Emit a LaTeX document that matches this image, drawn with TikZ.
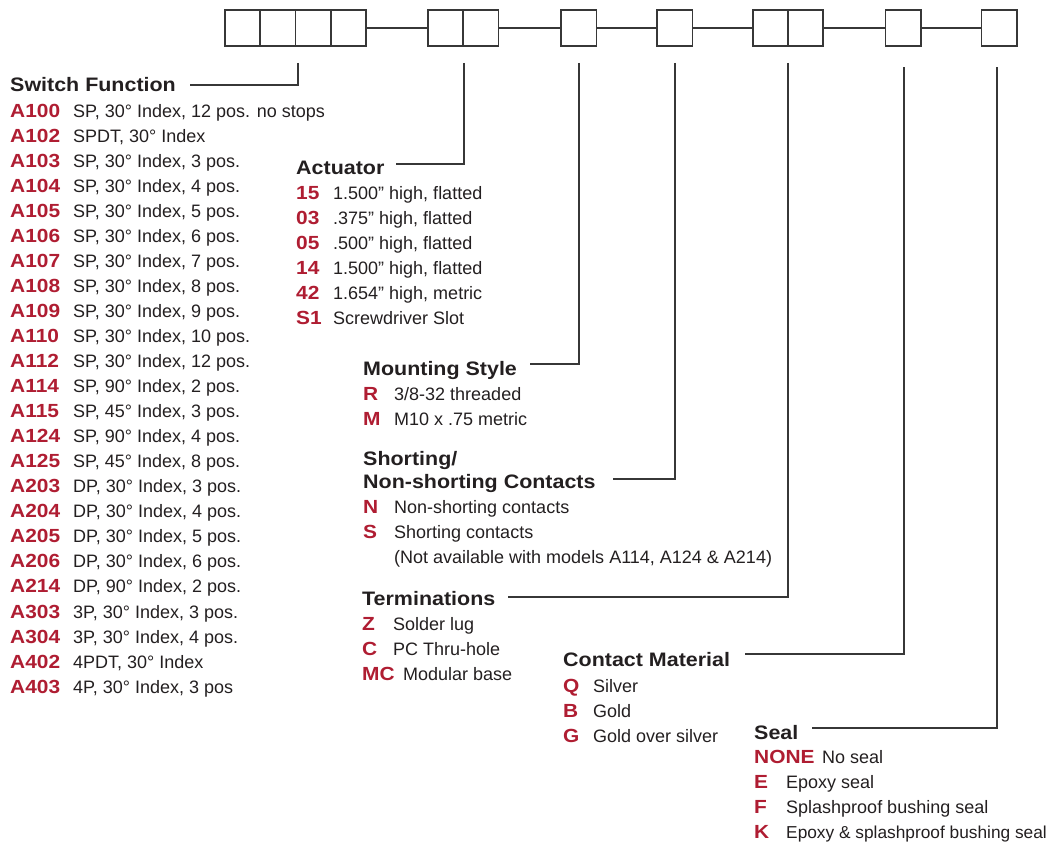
\documentclass[tikz,border=0pt]{standalone}
\usepackage{fontspec}
\setmainfont{Liberation Sans}
\newfontfamily\widefont[FakeStretch=1.1]{Liberation Sans}
\definecolor{codered}{RGB}{175,29,50}
\definecolor{ink}{RGB}{35,31,32}
\definecolor{linegray}{RGB}{55,55,55}
\newcommand\dsfont{\fontsize{18}{20}\selectfont}
\newcommand\cdfont{\widefont\bfseries\fontsize{19}{20}\selectfont}
\newcommand\hdfont{\widefont\bfseries\fontsize{19.5}{22}\selectfont}
\newcommand\optrow[6]{%
  \node[cd] (#1c) at (#2,#4) {#5};
  \node[ds] (#1d) at (#3,#4) {#6};}
\begin{document}
\begin{tikzpicture}[x=1pt,y=-1pt,
  box/.style={draw=linegray,line width=1.5pt,minimum width=35.5pt,minimum height=36pt,inner sep=0pt,outer sep=0pt},
  link/.style={draw=linegray,line width=1.5pt},
  lead/.style={draw=linegray,line width=1.5pt},
  hd/.style={anchor=base west,inner sep=0pt,text=ink,font=\hdfont},
  cd/.style={anchor=base west,inner sep=0pt,text=codered,font=\cdfont},
  ds/.style={anchor=base west,inner sep=0pt,text=ink,font=\dsfont}]
\useasboundingbox (0,0) rectangle (1054,843);
% top code boxes
\node[box] (b1) at (242.6,28) {};
\node[box] (b2) at (277.9,28) {};
\node[box] (b3) at (313.1,28) {};
\node[box] (b4) at (348.4,28) {};
\node[box] (b5) at (445.5,28) {};
\node[box] (b6) at (480.5,28) {};
\node[box] (b7) at (578.5,28) {};
\node[box] (b8) at (674.5,28) {};
\node[box] (b9) at (770.5,28) {};
\node[box] (b10) at (805,28) {};
\node[box] (b11) at (903,28) {};
\node[box] (b12) at (999,28) {};
\draw[link] (b4.east) -- (b5.west);
\draw[link] (b6.east) -- (b7.west);
\draw[link] (b7.east) -- (b8.west);
\draw[link] (b8.east) -- (b9.west);
\draw[link] (b10.east) -- (b11.west);
\draw[link] (b11.east) -- (b12.west);
% leader coordinates
\coordinate (t1) at (298,63);  \coordinate (e1) at (190,85);
\coordinate (t2) at (464,63);  \coordinate (e2) at (396,164);
\coordinate (t3) at (579,63);  \coordinate (e3) at (530,364);
\coordinate (t4) at (675,63);  \coordinate (e4) at (613,479);
\coordinate (t5) at (788,63);  \coordinate (e5) at (508,597);
\coordinate (t6) at (904,67);  \coordinate (e6) at (745,654);
\coordinate (t7) at (997,67);  \coordinate (e7) at (812,728);
\foreach \k in {1,...,7} {\draw[lead] (t\k) |- (e\k);}
% Switch Function
\node[hd] (hsf) at (10,92) {Switch Function};
\newcommand\swrow[4]{\optrow{#1}{10}{73}{117+25.05*#2}{#3}{#4}}
\swrow{s0}{0}{A100}{SP, 30° Index, 12 pos. no stops}
\swrow{s1}{1}{A102}{SPDT, 30° Index}
\swrow{s2}{2}{A103}{SP, 30° Index, 3 pos.}
\swrow{s3}{3}{A104}{SP, 30° Index, 4 pos.}
\swrow{s4}{4}{A105}{SP, 30° Index, 5 pos.}
\swrow{s5}{5}{A106}{SP, 30° Index, 6 pos.}
\swrow{s6}{6}{A107}{SP, 30° Index, 7 pos.}
\swrow{s7}{7}{A108}{SP, 30° Index, 8 pos.}
\swrow{s8}{8}{A109}{SP, 30° Index, 9 pos.}
\swrow{s9}{9}{A110}{SP, 30° Index, 10 pos.}
\swrow{s10}{10}{A112}{SP, 30° Index, 12 pos.}
\swrow{s11}{11}{A114}{SP, 90° Index, 2 pos.}
\swrow{s12}{12}{A115}{SP, 45° Index, 3 pos.}
\swrow{s13}{13}{A124}{SP, 90° Index, 4 pos.}
\swrow{s14}{14}{A125}{SP, 45° Index, 8 pos.}
\swrow{s15}{15}{A203}{DP, 30° Index, 3 pos.}
\swrow{s16}{16}{A204}{DP, 30° Index, 4 pos.}
\swrow{s17}{17}{A205}{DP, 30° Index, 5 pos.}
\swrow{s18}{18}{A206}{DP, 30° Index, 6 pos.}
\swrow{s19}{19}{A214}{DP, 90° Index, 2 pos.}
\swrow{s20}{20}{A303}{3P, 30° Index, 3 pos.}
\swrow{s21}{21}{A304}{3P, 30° Index, 4 pos.}
\swrow{s22}{22}{A402}{4PDT, 30° Index}
\swrow{s23}{23}{A403}{4P, 30° Index, 3 pos}
% Actuator
\node[hd] (hac) at (296,174) {Actuator};
\optrow{a0}{296}{333}{199}{15}{1.500” high, flatted}
\optrow{a1}{296}{333}{224}{03}{.375” high, flatted}
\optrow{a2}{296}{333}{249}{05}{.500” high, flatted}
\optrow{a3}{296}{333}{274}{14}{1.500” high, flatted}
\optrow{a4}{296}{333}{299}{42}{1.654” high, metric}
\optrow{a5}{296}{333}{324}{S1}{Screwdriver Slot}
% Mounting Style
\node[hd] (hms) at (363,375) {Mounting Style};
\optrow{m0}{363}{394}{400}{R}{3/8-32 threaded}
\optrow{m1}{363}{394}{425}{M}{M10 x .75 metric}
% Shorting
\node[hd] (hsh1) at (363,465) {Shorting/};
\node[hd] (hsh2) at (363,488) {Non-shorting Contacts};
\optrow{n0}{363}{394}{513}{N}{Non-shorting contacts}
\optrow{n1}{363}{394}{538}{S}{Shorting contacts}
\node[ds] (n2d) at (394,563) {(Not available with models A114, A124 \& A214)};
% Terminations
\node[hd] (hte) at (362,605) {Terminations};
\optrow{z0}{362}{393}{630}{Z}{Solder lug}
\optrow{z1}{362}{393}{655}{C}{PC Thru-hole}
\optrow{z2}{362}{403}{680}{MC}{Modular base}
% Contact Material
\node[hd] (hcm) at (563,666) {Contact Material};
\optrow{q0}{563}{593}{692}{Q}{Silver}
\optrow{q1}{563}{593}{717}{B}{Gold}
\optrow{q2}{563}{593}{742}{G}{Gold over silver}
% Seal
\node[hd] (hse) at (754,739) {Seal};
\optrow{k0}{754}{822}{763}{NONE}{No seal}
\optrow{k1}{754}{786}{788}{E}{Epoxy seal}
\optrow{k2}{754}{786}{813}{F}{Splashproof bushing seal}
\node[cd] (k3c) at (754,838) {K};
\node[ds,font=\fontsize{17.3}{20}\selectfont] (k3d) at (786,838) {Epoxy \& splashproof bushing seal};
\end{tikzpicture}
\end{document}
